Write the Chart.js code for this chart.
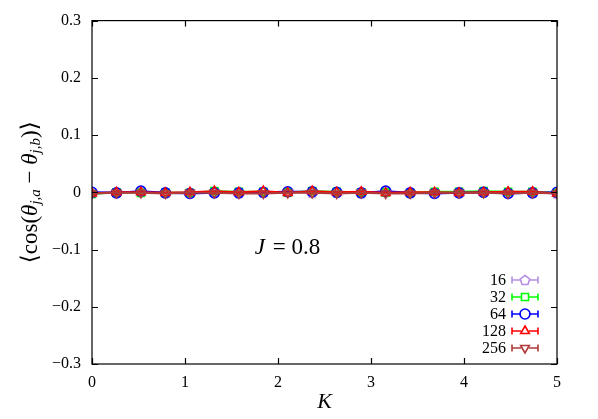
<!DOCTYPE html>
<html>
<head>
<meta charset="utf-8">
<script src="https://cdn.jsdelivr.net/npm/chart.js@4"></script>
<style>
  html, body { margin: 0; padding: 0; background: #fff; }
  #wrap { width: 598px; height: 419px; }
</style>
</head>
<body>
<div id="wrap"><canvas id="c"></canvas></div>
<script>
// data
const kValues = [0, 0.263, 0.526, 0.789, 1.053, 1.316, 1.579, 1.842, 2.105, 2.368,
                 2.632, 2.895, 3.158, 3.421, 3.684, 3.947, 4.211, 4.474, 4.737, 5.0];
const seriesLabels = ["16", "32", "64", "128", "256"];
const s16  = [-0.001, 0.000, 0.001, -0.001, 0.000, 0.001, -0.001, 0.000, 0.001, -0.001,
              0.000, -0.001, 0.001, 0.000, -0.001, 0.000, 0.001, -0.001, 0.000, -0.002];
const s32  = [-0.003, 0.000, -0.001, -0.001, -0.001, 0.002, 0.001, 0.001, 0.000, 0.002,
              0.001, 0.000, 0.000, -0.001, 0.001, 0.001, 0.002, 0.001, 0.001, -0.001];
const s64  = [0.000, -0.001, 0.002, -0.001, -0.002, -0.001, -0.001, 0.000, 0.001, 0.001,
              0.000, -0.001, 0.002, -0.001, -0.002, -0.001, 0.000, -0.002, -0.001, 0.000];
const s128 = [-0.002, 0.000, 0.000, -0.001, 0.000, 0.002, 0.000, 0.002, -0.001, 0.002,
              0.000, 0.001, -0.001, 0.000, 0.000, -0.001, 0.000, 0.001, 0.001, -0.002];
const s256 = [-0.002, -0.001, -0.001, -0.002, -0.001, -0.001, -0.002, -0.002, -0.001, -0.001,
              -0.002, -0.001, -0.002, -0.002, -0.001, -0.001, -0.001, -0.002, -0.001, -0.002];
const xTicks = [0, 1, 2, 3, 4, 5];
const yTicks = [-0.3, -0.2, -0.1, 0, 0.1, 0.2, 0.3];

const colors = ["#b58fe6", "#00ff00", "#0000ff", "#ff0000", "#b03a3a"];
const FONT = "'Liberation Serif', 'DejaVu Serif', serif";

// pentagon marker for the 16 series
function pentagon(color) {
  const cv = document.createElement("canvas");
  cv.width = 14; cv.height = 14;
  const g = cv.getContext("2d");
  g.strokeStyle = color; g.lineWidth = 1.6;
  g.beginPath();
  for (let i = 0; i < 5; i++) {
    const a = -Math.PI / 2 + i * 2 * Math.PI / 5;
    const px = 7 + 5 * Math.cos(a), py = 7.5 + 5 * Math.sin(a);
    if (i === 0) g.moveTo(px, py); else g.lineTo(px, py);
  }
  g.closePath(); g.stroke();
  return cv;
}

const styles = [pentagon(colors[0]), "rect", "circle", "triangle", "triangle"];
const rotations = [0, 0, 0, 0, 180];
const allSeries = [s16, s32, s64, s128, s256];

const datasets = allSeries.map((s, i) => ({
  label: seriesLabels[i],
  data: s.map((v, j) => ({ x: kValues[j], y: v })),
  borderColor: colors[i],
  backgroundColor: "rgba(0,0,0,0)",
  borderWidth: 2,
  pointStyle: styles[i],
  pointRotation: rotations[i],
  pointRadius: 5,
  pointBorderWidth: 1.6,
  pointBackgroundColor: "rgba(0,0,0,0)",
  order: 4 - i
}));

function drawMarker(ctx, i, x, y) {
  ctx.fillStyle = "rgba(0,0,0,0)";
  ctx.strokeStyle = colors[i];
  ctx.lineWidth = 1.6;
  Chart.helpers.drawPoint(ctx, {
    pointStyle: styles[i], rotation: rotations[i], radius: 5, borderWidth: 1.6
  }, x, y);
}

const extras = {
  id: "extras",
  afterDraw(chart) {
    const ctx = chart.ctx;
    const a = chart.chartArea;
    const xs = chart.scales.x, ys = chart.scales.y;
    ctx.save();
    // frame
    ctx.strokeStyle = "#000"; ctx.lineWidth = 1.2;
    ctx.strokeRect(a.left, a.top, a.right - a.left, a.bottom - a.top);
    // inward ticks on all sides
    ctx.beginPath();
    xTicks.forEach(t => {
      const px = Math.round(xs.getPixelForValue(t)) + 0.5;
      ctx.moveTo(px, a.bottom); ctx.lineTo(px, a.bottom - 6);
      ctx.moveTo(px, a.top); ctx.lineTo(px, a.top + 6);
    });
    yTicks.forEach(t => {
      const py = Math.round(ys.getPixelForValue(t)) + 0.5;
      ctx.moveTo(a.left, py); ctx.lineTo(a.left + 6, py);
      ctx.moveTo(a.right, py); ctx.lineTo(a.right - 6, py);
    });
    ctx.stroke();

    // J = 0.8 annotation
    const jx = xs.getPixelForValue(1.75), jy = ys.getPixelForValue(-0.107);
    ctx.fillStyle = "#000";
    ctx.textBaseline = "alphabetic";
    ctx.textAlign = "left";
    ctx.font = "italic 23px " + FONT;
    ctx.fillText("J", jx, jy);
    const jw = ctx.measureText("J").width;
    ctx.font = "23px " + FONT;
    ctx.fillText(" = 0.8", jx + jw + 2, jy);

    // legend: text right aligned, sample with error bar caps
    ctx.font = "16px " + FONT;
    chart.data.datasets.forEach((ds, i) => {
      const y = 280 + i * 17;
      ctx.fillStyle = "#000";
      ctx.textAlign = "right";
      ctx.textBaseline = "middle";
      ctx.fillText(ds.label, 506, y + 1);
      ctx.strokeStyle = colors[i];
      ctx.lineWidth = 1.6;
      ctx.beginPath();
      ctx.moveTo(512, y); ctx.lineTo(538, y);
      ctx.moveTo(512, y - 3.5); ctx.lineTo(512, y + 3.5);
      ctx.moveTo(538, y - 3.5); ctx.lineTo(538, y + 3.5);
      ctx.stroke();
      ctx.save();
      ctx.fillStyle = "#fff";
      ctx.beginPath(); ctx.arc(525, y, 4, 0, 2 * Math.PI); ctx.fill();
      ctx.restore();
      drawMarker(ctx, i, 525, y);
    });

    // y axis title with subscripts
    ctx.translate(24, (a.top + a.bottom) / 2);
    ctx.rotate(-Math.PI / 2);
    const parts = [
      ["\u27E8cos(", "23px", 0], ["\u03B8", "italic 23px", 0], ["j,a", "italic 15px", 5],
      [" \u2212 ", "23px", 0], ["\u03B8", "italic 23px", 0], ["j,b", "italic 15px", 5],
      [")\u27E9", "23px", 0]
    ];
    let total = 0;
    parts.forEach(p => { ctx.font = p[1] + " " + FONT; total += ctx.measureText(p[0]).width; });
    let cx = -total / 2;
    ctx.textAlign = "left";
    ctx.fillStyle = "#000";
    parts.forEach(p => {
      ctx.font = p[1] + " " + FONT;
      ctx.fillText(p[0], cx, 7 + p[2]);
      cx += ctx.measureText(p[0]).width;
    });
    ctx.restore();
  }
};

new Chart(document.getElementById("c"), {
  type: "line",
  data: { datasets },
  options: {
    responsive: true,
    maintainAspectRatio: false,
    animation: false,
    layout: { padding: { top: 16, right: 41, left: 0, bottom: 0 } },
    plugins: { legend: { display: false }, tooltip: { enabled: false } },
    scales: {
      x: {
        type: "linear", min: 0, max: 5,
        afterBuildTicks: s => { s.ticks = xTicks.map(v => ({ value: v })); },
        afterFit: s => { s.height = 55; },
        grid: { display: false, drawTicks: false },
        border: { display: false },
        ticks: { color: "#000", padding: 9, font: { family: FONT, size: 16 } },
        title: { display: true, text: "K", color: "#000", padding: { top: 0 },
                 font: { family: FONT, size: 22, style: "italic" } }
      },
      y: {
        type: "linear", min: -0.3, max: 0.3,
        afterBuildTicks: s => { s.ticks = yTicks.map(v => ({ value: v })); },
        afterFit: s => { s.width = 92; },
        grid: { display: false, drawTicks: false },
        border: { display: false },
        ticks: {
          color: "#000", padding: 11, font: { family: FONT, size: 16 },
          callback: v => (Math.abs(v) < 1e-9 ? "0" : String(Math.round(v * 10) / 10).replace("-", "\u2212"))
        }
      }
    }
  },
  plugins: [extras]
});
</script>
</body>
</html>
